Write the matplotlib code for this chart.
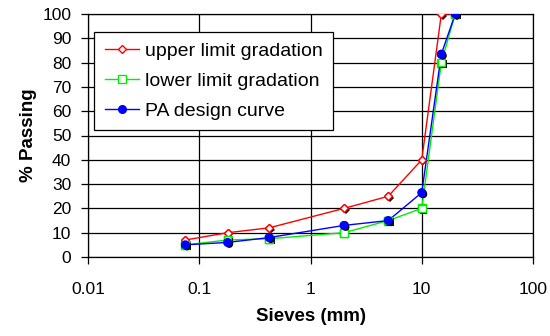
import matplotlib
matplotlib.use("Agg")
import matplotlib.pyplot as plt
import matplotlib.patheffects as pe

plt.rcParams['font.family'] = ['Liberation Sans', 'DejaVu Sans']

sieves = [0.075, 0.18, 0.425, 2, 5, 10, 15, 20]
upper_limit = [7, 10, 12, 20, 25, 40, 100, 100]
lower_limit = [5, 7, 7.5, 10, 15, 20, 80, 100]
design_curve = [5, 6, 8, 13, 15, 26.5, 83.5, 100]

x_ticks = [0.01, 0.1, 1, 10, 100]
x_labels = ['0.01', '0.1', '1', '10', '100']
y_ticks = list(range(0, 101, 10))

fig = plt.figure(figsize=(5.5, 3.36), dpi=100)
ax = fig.add_axes([88 / 550, 1 - 257 / 336, (533 - 88) / 550, (257 - 14) / 336])

shadow = [pe.SimplePatchShadow(offset=(1.2, -1.2), shadow_rgbFace='black', alpha=1.0), pe.Normal()]

series = [
    (upper_limit, 'red', 'D', 'white', 4, 'upper limit gradation'),
    (lower_limit, '#00ee00', 's', 'white', 5.5, 'lower limit gradation'),
    (design_curve, 'blue', 'o', 'blue', 5.5, 'PA design curve'),
]
for vals, col, mk, face, ms, lab in series:
    ax.plot(sieves, vals, color=col, lw=1, marker=mk, ms=ms, mfc=face, mec=col, mew=1,
            label=lab, zorder=3)
    ax.plot(sieves, vals, ls='none', marker=mk, ms=ms, mfc=face, mec=col, mew=1,
            path_effects=shadow, zorder=4)

ax.set_xscale('log')
ax.set_xlim(0.01, 100)
ax.set_ylim(0, 100)
ax.set_xticks(x_ticks)
ax.set_xticklabels(x_labels)
ax.xaxis.set_minor_locator(matplotlib.ticker.NullLocator())
ax.set_yticks(y_ticks)
ax.grid(True, color='black', lw=0.9)
ax.tick_params(axis='both', labelsize=12.5, direction='out', length=5, width=0.9)
ax.tick_params(axis='x', pad=13)
ax.tick_params(axis='y', pad=7)
for s in ax.spines.values():
    s.set_color('black')
    s.set_linewidth(0.9)

ax.set_xlabel('Sieves (mm)', fontsize=13.5, fontweight='bold', labelpad=8)
ax.set_ylabel('% Passing', fontsize=13.5, fontweight='bold', labelpad=4)

leg = ax.legend(loc='upper left', bbox_to_anchor=(94 / 550, 1 - 32 / 336),
                bbox_transform=fig.transFigure, fontsize=14, fancybox=False,
                framealpha=1, edgecolor='black', borderaxespad=0,
                handlelength=1.75, handletextpad=0.3, labelspacing=0.62, borderpad=0.55)
leg.get_frame().set_linewidth(0.9)

fig.savefig('out.png', dpi=100)
